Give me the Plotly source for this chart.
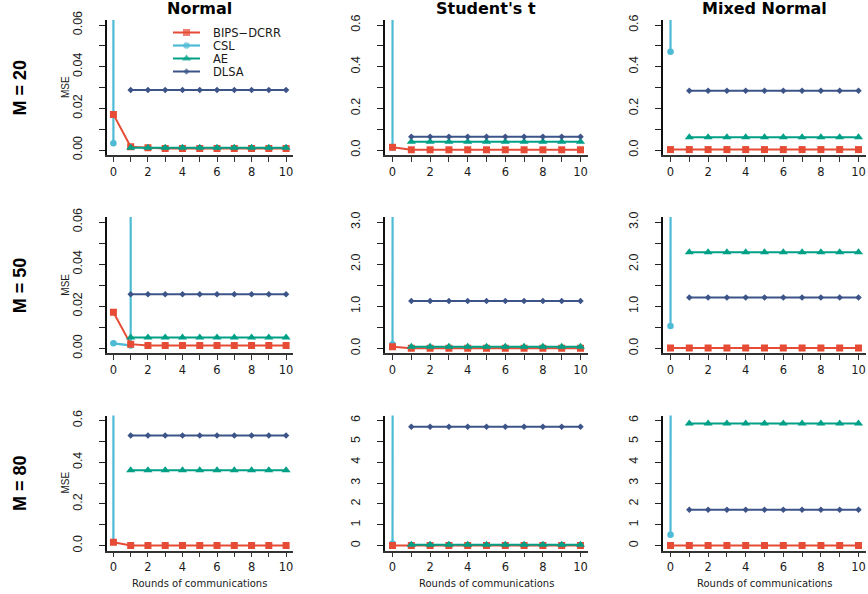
import plotly.graph_objects as go

# ---------------- data ----------------
rounds = [0, 1, 2, 3, 4, 5, 6, 7, 8, 9, 10]
methods = ["BIPS−DCRR", "CSL", "AE", "DLSA"]
distributions = ["Normal", "Student's t", "Mixed Normal"]
machine_labels = ["M = 20", "M = 50", "M = 80"]
x_title = "Rounds of communications"
y_title = "MSE"

x_tick_vals = [0, 1, 2, 3, 4, 5, 6, 7, 8, 9, 10]
x_tick_text = ["0", "", "2", "", "4", "", "6", "", "8", "", "10"]

ytv_006 = [0, 0.01, 0.02, 0.03, 0.04, 0.05, 0.06]
ytt_006 = ["0.00", "", "0.02", "", "0.04", "", "0.06"]
ytv_06 = [0, 0.1, 0.2, 0.3, 0.4, 0.5, 0.6]
ytt_06 = ["0.0", "", "0.2", "", "0.4", "", "0.6"]
ytv_3 = [0, 0.5, 1.0, 1.5, 2.0, 2.5, 3.0]
ytt_3 = ["0.0", "", "1.0", "", "2.0", "", "3.0"]
ytv_6 = [0, 1, 2, 3, 4, 5, 6]
ytt_6 = ["0", "1", "2", "3", "4", "5", "6"]

# y-axis upper limits per row (Normal, Student's t, Mixed Normal)
ylim_m20 = [0.06, 0.6, 0.6]
ylim_m50 = [0.06, 3.0, 3.0]
ylim_m80 = [0.6, 6.0, 6.0]

# M = 20
normal_m20_bips = [0.0171, 0.0016, 0.0011, 0.0007, 0.0007, 0.0007, 0.0007, 0.0007, 0.0007, 0.0007, 0.0007]
normal_m20_csl = [0.0032, 1000, None, None, None, None, None, None, None, None, None]
normal_m20_ae = [None, 0.0011, 0.0011, 0.0011, 0.0011, 0.0011, 0.0011, 0.0011, 0.0011, 0.0011, 0.0011]
normal_m20_dlsa = [None, 0.0288, 0.0288, 0.0288, 0.0288, 0.0288, 0.0288, 0.0288, 0.0288, 0.0288, 0.0288]

t_m20_bips = [0.013, 0.001, 0.001, 0.001, 0.001, 0.001, 0.001, 0.001, 0.001, 0.001, 0.001]
t_m20_csl = [0.013, 1000, None, None, None, None, None, None, None, None, None]
t_m20_ae = [None, 0.040, 0.040, 0.040, 0.040, 0.040, 0.040, 0.040, 0.040, 0.040, 0.040]
t_m20_dlsa = [None, 0.064, 0.064, 0.064, 0.064, 0.064, 0.064, 0.064, 0.064, 0.064, 0.064]

mix_m20_bips = [0.002, 0.002, 0.002, 0.002, 0.002, 0.002, 0.002, 0.002, 0.002, 0.002, 0.002]
mix_m20_csl = [0.472, 1000, None, None, None, None, None, None, None, None, None]
mix_m20_ae = [None, 0.061, 0.061, 0.061, 0.061, 0.061, 0.061, 0.061, 0.061, 0.061, 0.061]
mix_m20_dlsa = [None, 0.285, 0.285, 0.285, 0.285, 0.285, 0.285, 0.285, 0.285, 0.285, 0.285]

# M = 50
normal_m50_bips = [0.0171, 0.0020, 0.0013, 0.0013, 0.0013, 0.0013, 0.0013, 0.0013, 0.0013, 0.0013, 0.0013]
normal_m50_csl = [0.0024, 0.0014, 1000, None, None, None, None, None, None, None, None]
normal_m50_ae = [None, 0.0052, 0.0052, 0.0052, 0.0052, 0.0052, 0.0052, 0.0052, 0.0052, 0.0052, 0.0052]
normal_m50_dlsa = [None, 0.0257, 0.0257, 0.0257, 0.0257, 0.0257, 0.0257, 0.0257, 0.0257, 0.0257, 0.0257]

t_m50_bips = [0.04, 0.005, 0.005, 0.005, 0.005, 0.005, 0.005, 0.005, 0.005, 0.005, 0.005]
t_m50_csl = [0.10, 1000, None, None, None, None, None, None, None, None, None]
t_m50_ae = [None, 0.04, 0.04, 0.04, 0.04, 0.04, 0.04, 0.04, 0.04, 0.04, 0.04]
t_m50_dlsa = [None, 1.127, 1.127, 1.127, 1.127, 1.127, 1.127, 1.127, 1.127, 1.127, 1.127]

mix_m50_bips = [0.01, 0.01, 0.01, 0.01, 0.01, 0.01, 0.01, 0.01, 0.01, 0.01, 0.01]
mix_m50_csl = [0.533, 1000, None, None, None, None, None, None, None, None, None]
mix_m50_ae = [None, 2.28, 2.28, 2.28, 2.28, 2.28, 2.28, 2.28, 2.28, 2.28, 2.28]
mix_m50_dlsa = [None, 1.21, 1.21, 1.21, 1.21, 1.21, 1.21, 1.21, 1.21, 1.21, 1.21]

# M = 80
normal_m80_bips = [0.016, 0.001, 0.001, 0.001, 0.001, 0.001, 0.001, 0.001, 0.001, 0.001, 0.001]
normal_m80_csl = [0.019, 1000, None, None, None, None, None, None, None, None, None]
normal_m80_ae = [None, 0.362, 0.362, 0.362, 0.362, 0.362, 0.362, 0.362, 0.362, 0.362, 0.362]
normal_m80_dlsa = [None, 0.528, 0.528, 0.528, 0.528, 0.528, 0.528, 0.528, 0.528, 0.528, 0.528]

t_m80_bips = [0.01, 0.015, 0.015, 0.015, 0.015, 0.015, 0.015, 0.015, 0.015, 0.015, 0.015]
t_m80_csl = [0.11, 1000, None, None, None, None, None, None, None, None, None]
t_m80_ae = [None, 0.05, 0.05, 0.05, 0.05, 0.05, 0.05, 0.05, 0.05, 0.05, 0.05]
t_m80_dlsa = [None, 5.70, 5.70, 5.70, 5.70, 5.70, 5.70, 5.70, 5.70, 5.70, 5.70]

mix_m80_bips = [0.01, 0.01, 0.01, 0.01, 0.01, 0.01, 0.01, 0.01, 0.01, 0.01, 0.01]
mix_m80_csl = [0.525, 1000, None, None, None, None, None, None, None, None, None]
mix_m80_ae = [None, 5.86, 5.86, 5.86, 5.86, 5.86, 5.86, 5.86, 5.86, 5.86, 5.86]
mix_m80_dlsa = [None, 1.72, 1.72, 1.72, 1.72, 1.72, 1.72, 1.72, 1.72, 1.72, 1.72]

# ---------------- assembly ----------------
panels = [
    [(normal_m20_bips, normal_m20_csl, normal_m20_ae, normal_m20_dlsa),
     (t_m20_bips, t_m20_csl, t_m20_ae, t_m20_dlsa),
     (mix_m20_bips, mix_m20_csl, mix_m20_ae, mix_m20_dlsa)],
    [(normal_m50_bips, normal_m50_csl, normal_m50_ae, normal_m50_dlsa),
     (t_m50_bips, t_m50_csl, t_m50_ae, t_m50_dlsa),
     (mix_m50_bips, mix_m50_csl, mix_m50_ae, mix_m50_dlsa)],
    [(normal_m80_bips, normal_m80_csl, normal_m80_ae, normal_m80_dlsa),
     (t_m80_bips, t_m80_csl, t_m80_ae, t_m80_dlsa),
     (mix_m80_bips, mix_m80_csl, mix_m80_ae, mix_m80_dlsa)],
]
ylims = [ylim_m20, ylim_m50, ylim_m80]
yticks = [
    [(ytv_006, ytt_006), (ytv_06, ytt_06), (ytv_06, ytt_06)],
    [(ytv_006, ytt_006), (ytv_3, ytt_3), (ytv_3, ytt_3)],
    [(ytv_06, ytt_06), (ytv_6, ytt_6), (ytv_6, ytt_6)],
]

colors = ["#E64B35", "#4DBBD5", "#00A087", "#3C5488"]
symbols = ["square", "circle", "triangle-up", "diamond"]
msizes = [7, 6.5, 8, 5]
lwidths = [2, 2.2, 2, 2]
draw_order = [1, 0, 2, 3]  # CSL, BIPS, AE, DLSA

W, H = 868, 594
col_px = [(106.5, 293.0), (385.0, 588.0), (663.0, 866.0)]
row_px = [(20.0, 155.0), (217.0, 353.4), (415.5, 550.7)]

def px_x(p):
    return p / W

def px_y(p):
    return 1 - p / H

ROT_FONT = "Liberation Sans Narrow, Liberation Sans, Arial, sans-serif"
HOR_FONT = "DejaVu Sans, Verdana, sans-serif"
INK = "#1a1a1a"

fig = go.Figure()
layout = dict(
    template="none",
    width=W, height=H, margin=dict(l=0, r=0, t=0, b=0, pad=0, autoexpand=False),
    paper_bgcolor="white", plot_bgcolor="white", showlegend=False,
)
annotations = []

for r in range(3):
    for c in range(3):
        idx = r * 3 + c + 1
        xa = "x" if idx == 1 else f"x{idx}"
        ya = "y" if idx == 1 else f"y{idx}"
        ymax = ylims[r][c]
        series = panels[r][c]
        for k in draw_order:
            fig.add_trace(go.Scatter(
                x=rounds, y=series[k], xaxis=xa, yaxis=ya,
                mode="lines+markers", name=methods[k],
                line=dict(color=colors[k], width=lwidths[k]),
                marker=dict(symbol=symbols[k], size=msizes[k], color=colors[k],
                            line=dict(width=0)),
                connectgaps=False, hoverinfo="skip",
            ))
        tv, tt = yticks[r][c]
        layout["xaxis" if idx == 1 else f"xaxis{idx}"] = dict(
            domain=[px_x(col_px[c][0]), px_x(col_px[c][1])],
            anchor=ya, range=[-0.4, 10.4], automargin=False,
            tickmode="array", tickvals=x_tick_vals, ticktext=x_tick_text,
            ticks="outside", ticklen=5, tickwidth=1.3, tickcolor="#333",
            showline=True, linecolor="#333", linewidth=1.5,
            showgrid=False, zeroline=False, ticklabeloverflow="allow",
            tickfont=dict(family=HOR_FONT, size=11.5, color=INK),
        )
        layout["yaxis" if idx == 1 else f"yaxis{idx}"] = dict(
            domain=[px_y(row_px[r][1]), px_y(row_px[r][0])],
            anchor=xa, range=[-0.04 * ymax, 1.04 * ymax], automargin=False,
            tickmode="array", tickvals=tv, ticktext=tt,
            ticks="outside", ticklen=6, tickwidth=1.3, tickcolor="#222",
            showline=True, linecolor="#111", linewidth=2,
            showgrid=False, zeroline=False, tickangle=-90,
            ticklabelstandoff=12, ticklabeloverflow="allow",
            tickfont=dict(family=ROT_FONT, size=12.5, color=INK),
        )

# column titles and x titles
for c in range(3):
    xc = px_x((col_px[c][0] + col_px[c][1]) / 2)
    annotations.append(dict(
        text=f"<b>{distributions[c]}</b>", xref="paper", yref="paper",
        x=xc, y=px_y(9), xanchor="center", yanchor="middle", showarrow=False,
        font=dict(family=HOR_FONT, size=16, color="#000"),
    ))
    annotations.append(dict(
        text=x_title, xref="paper", yref="paper",
        x=xc, y=px_y(583), xanchor="center", yanchor="middle", showarrow=False,
        font=dict(family=HOR_FONT, size=10, color=INK),
    ))

# row labels and MSE
for r in range(3):
    yc = px_y((row_px[r][0] + row_px[r][1]) / 2)
    annotations.append(dict(
        text=f"<b>{machine_labels[r]}</b>", xref="paper", yref="paper",
        x=px_x(20), y=yc, xanchor="center", yanchor="middle",
        textangle=-90, showarrow=False,
        font=dict(family=ROT_FONT, size=18, color="#000"),
    ))
    annotations.append(dict(
        text=y_title, xref="paper", yref="paper",
        x=px_x(65.5), y=yc, xanchor="center", yanchor="middle",
        textangle=-90, showarrow=False,
        font=dict(family=ROT_FONT, size=10, color=INK),
    ))

# legend (top-left panel), drawn on its own small axis
n = len(methods)
leg_y0, leg_step = 26.0, 13.0
layout["xaxis10"] = dict(domain=[px_x(173), px_x(300)], range=[0, 127 / 27],
                         visible=False, anchor="y10", fixedrange=True)
layout["yaxis10"] = dict(domain=[px_y(leg_y0 + n * leg_step), px_y(leg_y0)],
                         range=[-0.5, n - 0.5], visible=False, anchor="x10", fixedrange=True)
for k in range(n):
    yk = n - 1 - k
    fig.add_trace(go.Scatter(
        x=[0, 0.5, 1], y=[yk, yk, yk], xaxis="x10", yaxis="y10",
        mode="lines+markers",
        line=dict(color=colors[k], width=lwidths[k]),
        marker=dict(symbol=symbols[k], size=[0, msizes[k], 0], color=colors[k],
                    line=dict(width=0)),
        hoverinfo="skip",
    ))
    annotations.append(dict(
        text=methods[k], xref="x10", yref="y10", x=(211 - 173) / 27, y=yk,
        xanchor="left", yanchor="middle", showarrow=False,
        font=dict(family=HOR_FONT, size=11.5, color=INK),
    ))

layout["annotations"] = annotations
fig.update_layout(**layout)
fig.write_html("out.html", config={"displayModeBar": False},
               post_script="document.body.style.margin='0';document.body.style.padding='0';")
